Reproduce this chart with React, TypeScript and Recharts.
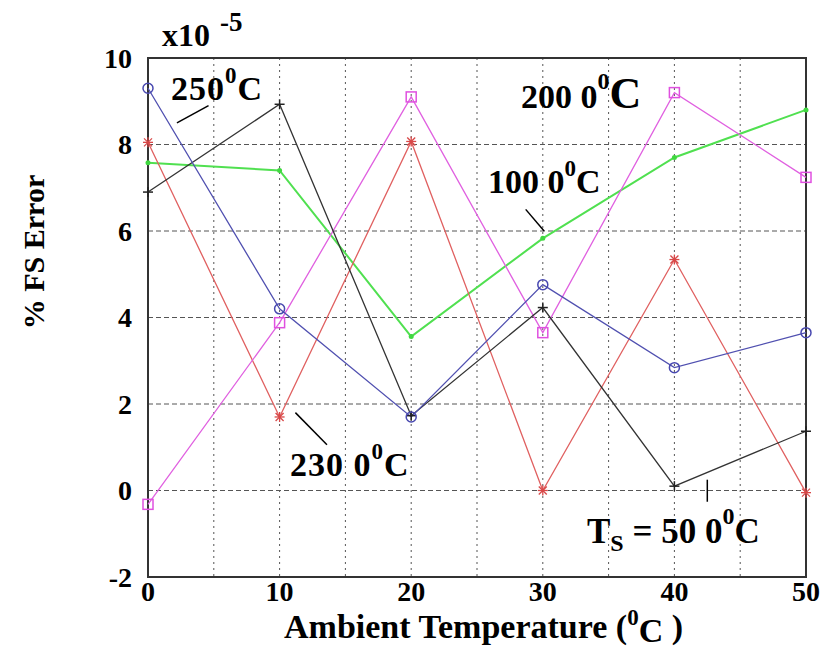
import { LineChart, Line, XAxis, YAxis, CartesianGrid, ReferenceArea, ReferenceLine } from "recharts"

const temps = [0, 10, 20, 30, 40, 50]
// % FS error (x10^-5) for each sensor temperature
const err250 = [9.3, 4.2, 1.7, 4.76, 2.84, 3.65]
const err500 = [6.9, 8.93, 1.73, 4.23, 0.1, 1.37]
const err1000 = [7.58, 7.4, 3.56, 5.83, 7.7, 8.8]
const err2000 = [-0.32, 3.88, 9.1, 3.65, 9.2, 7.24]
const err2300 = [8.05, 1.7, 8.07, 0.0, 5.34, -0.05]

const xTicks = [0, 5, 10, 15, 20, 25, 30, 35, 40, 45, 50]
const yTicks = [-2, 0, 2, 4, 6, 8, 10]

const data = temps.map((t, i) => ({
  t,
  e250: err250[i],
  e500: err500[i],
  e1000: err1000[i],
  e2000: err2000[i],
  e2300: err2300[i],
}))

const FONT = "'Liberation Serif', 'Times New Roman', serif"
const tickStyle = { fill: "#000", fontSize: 28, fontWeight: 700, fontFamily: FONT }

const CircleDot = (p: any) => (
  <circle cx={p.cx} cy={p.cy} r={5} fill="none" stroke="#4848b0" strokeWidth={1.5} />
)
const PlusDot = (p: any) => (
  <g stroke="#222" strokeWidth={1.5}>
    <line x1={p.cx - 5} y1={p.cy} x2={p.cx + 5} y2={p.cy} />
    <line x1={p.cx} y1={p.cy - 5} x2={p.cx} y2={p.cy + 5} />
  </g>
)
const StarDot = (p: any) => (
  <g stroke="#d84848" strokeWidth={1.3}>
    <line x1={p.cx - 5} y1={p.cy} x2={p.cx + 5} y2={p.cy} />
    <line x1={p.cx} y1={p.cy - 5} x2={p.cx} y2={p.cy + 5} />
    <line x1={p.cx - 4} y1={p.cy - 4} x2={p.cx + 4} y2={p.cy + 4} />
    <line x1={p.cx - 4} y1={p.cy + 4} x2={p.cx + 4} y2={p.cy - 4} />
  </g>
)
const SquareDot = (p: any) => (
  <rect x={p.cx - 5} y={p.cy - 5} width={10} height={10} fill="none" stroke="#e050e0" strokeWidth={1.5} />
)
const PointDot = (p: any) => <circle cx={p.cx} cy={p.cy} r={2.5} fill="#40d840" />

export default function App() {
  const b = { fontFamily: FONT, fontWeight: 700, fill: "#000" }
  return (
    <div style={{ position: "absolute", left: 0, top: 0, width: 825, height: 651, background: "#fff" }}>
      <LineChart width={825} height={651} data={data} margin={{ top: 58, right: 19, bottom: 44, left: 0 }}>
        <CartesianGrid horizontal={false} stroke="#555" strokeDasharray="2 4" />
        <CartesianGrid vertical={false} stroke="#555" strokeDasharray="5 3" />
        <XAxis
          dataKey="t"
          type="number"
          domain={[0, 50]}
          ticks={xTicks}
          tickFormatter={(v: number) => (v % 10 === 0 ? String(v) : "")}
          axisLine={false}
          tickLine={false}
          tickSize={0}
          tickMargin={4}
          height={30}
          tick={tickStyle}
        />
        <YAxis
          type="number"
          domain={[-2, 10]}
          ticks={yTicks}
          axisLine={false}
          tickLine={false}
          tickSize={0}
          tickMargin={16}
          width={148}
          tick={tickStyle}
        />
        <ReferenceArea x1={0} x2={50} y1={-2} y2={10} fill="none" stroke="#333" strokeWidth={2} />
        <ReferenceLine segment={[{ x: 2.2, y: 8.5 }, { x: 4.6, y: 8.9 }]} stroke="#000" strokeWidth={1.5} />
        <ReferenceLine segment={[{ x: 28.7, y: 6.5 }, { x: 30.1, y: 6.0 }]} stroke="#000" strokeWidth={1.5} />
        <ReferenceLine segment={[{ x: 11.2, y: 1.8 }, { x: 13.6, y: 1.06 }]} stroke="#000" strokeWidth={1.5} />
        <ReferenceLine segment={[{ x: 42.5, y: 0.25 }, { x: 42.5, y: -0.26 }]} stroke="#000" strokeWidth={1.5} />
        <Line dataKey="e1000" stroke="#50e050" strokeWidth={2} dot={<PointDot />} isAnimationActive={false} />
        <Line dataKey="e2300" stroke="#e06060" strokeWidth={1.3} dot={<StarDot />} isAnimationActive={false} />
        <Line dataKey="e2000" stroke="#e060e0" strokeWidth={1.3} dot={<SquareDot />} isAnimationActive={false} />
        <Line dataKey="e500" stroke="#333" strokeWidth={1.3} dot={<PlusDot />} isAnimationActive={false} />
        <Line dataKey="e250" stroke="#5050b0" strokeWidth={1.3} dot={<CircleDot />} isAnimationActive={false} />
      </LineChart>
      <svg width={825} height={651} style={{ position: "absolute", left: 0, top: 0, pointerEvents: "none" }}>
        <text x={162} y={46} fontSize={32} {...b}>x10</text>
        <text x={220} y={31} fontSize={27} {...b}>-5</text>

        <text x={171} y={100} fontSize={34} letterSpacing={1} {...b}>
          250<tspan dy={-17} fontSize={23}>0</tspan><tspan dy={17}>C</tspan>
        </text>
        <text x={521} y={108} fontSize={34} {...b}>
          200 0<tspan dy={-19} fontSize={24}>0</tspan><tspan dy={19} fontSize={44}>C</tspan>
        </text>
        <text x={488} y={193} fontSize={34} {...b}>
          100 0<tspan dy={-17} fontSize={23}>0</tspan><tspan dy={17}>C</tspan>
        </text>
        <text x={290} y={476} fontSize={34} letterSpacing={1} {...b}>
          230 0<tspan dy={-17} fontSize={23}>0</tspan><tspan dy={17}>C</tspan>
        </text>
        <text x={587} y={543} fontSize={35} {...b}>
          T<tspan dy={8} fontSize={24}>S</tspan><tspan dy={-8}> = 50 0</tspan>
          <tspan dy={-19} fontSize={24}>0</tspan><tspan dy={19}>C</tspan>
        </text>

        <text x={44} y={252} fontSize={30} textAnchor="middle" transform="rotate(-90, 44, 252)" {...b}>
          % FS  Error
        </text>
        <text x={284} y={638} fontSize={34} {...b}>
          Ambient Temperature (<tspan dy={-13} fontSize={23}>0</tspan><tspan dy={17}>C</tspan><tspan dy={-4}> )</tspan>
        </text>
      </svg>
    </div>
  )
}
